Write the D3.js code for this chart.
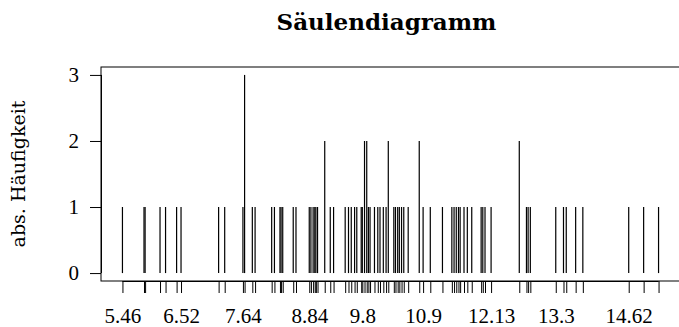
<!DOCTYPE html>
<html>
<head>
<meta charset="utf-8">
<script src="https://cdn.jsdelivr.net/npm/d3@7"></script>
<style>
  html, body { margin: 0; padding: 0; background: #fff; }
  svg { display: block; }
  text { font-family: "Liberation Serif", "DejaVu Serif", serif; fill: #000; }
</style>
</head>
<body>
<svg id="chart" width="679" height="327"></svg>
<script>
// Observed values (rounded to two decimals) and how often each occurs
const values = [
  5.46, 5.85, 5.87, 6.14, 6.24, 6.44, 6.52, 7.20, 7.31, 7.64, 7.67, 7.81, 7.86,
  8.16, 8.21, 8.31, 8.33, 8.36, 8.55, 8.60, 8.84, 8.87, 8.91, 8.94, 8.96, 8.99,
  9.12, 9.22, 9.28, 9.49, 9.55, 9.60, 9.66, 9.70, 9.78, 9.80, 9.84, 9.88, 9.91,
  9.94, 10.02, 10.08, 10.12, 10.18, 10.23, 10.27, 10.37, 10.40, 10.44, 10.47,
  10.51, 10.55, 10.63, 10.83, 10.90, 11.03, 11.25, 11.42, 11.46, 11.50, 11.54,
  11.57, 11.64, 11.70, 11.78, 11.95, 11.98, 12.02, 12.13, 12.64, 12.77, 12.80,
  12.84, 13.30, 13.44, 13.49, 13.66, 13.79, 14.62, 14.89, 15.16
];
const counts = [
  1, 1, 1, 1, 1, 1, 1, 1, 1, 1, 3, 1, 1,
  1, 1, 1, 1, 1, 1, 1, 1, 1, 1, 1, 1, 1,
  2, 1, 1, 1, 1, 1, 1, 1, 1, 1, 2, 2, 1,
  1, 1, 1, 1, 1, 1, 2, 1, 1, 1, 1,
  1, 1, 1, 2, 1, 1, 1, 1, 1, 1, 1,
  1, 1, 1, 1, 1, 1, 1, 1, 2, 1, 1,
  1, 1, 1, 1, 1, 1, 1, 1, 1
];
// Tick labels that are printed on the x axis (the rest stay unlabelled)
const xLabels = [5.46, 6.52, 7.64, 8.84, 9.8, 10.9, 12.13, 13.3, 14.62];
const yTicks = [0, 1, 2, 3];

const title = "Säulendiagramm";
const yTitle = "abs. Häufigkeit";

const svg = d3.select("#chart");
const box = { left: 101, top: 67, right: 680, bottom: 281 };

// R-style 4% padding around the data range
const xMin = d3.min(values), xMax = d3.max(values);
const xPad = 0.04 * (xMax - xMin);
const x = d3.scaleLinear()
  .domain([xMin - xPad, xMax + xPad])
  .range([box.left, box.right]);

const yPad = 0.04 * 3;
const y = d3.scaleLinear()
  .domain([0 - yPad, 3 + yPad])
  .range([box.bottom, box.top]);

const data = values.map((v, i) => ({ v, n: counts[i] }));

// Frame around the plotting region
svg.append("rect")
  .attr("x", box.left).attr("y", box.top)
  .attr("width", box.right - box.left).attr("height", box.bottom - box.top)
  .attr("fill", "none").attr("stroke", "#000").attr("stroke-width", 1);

// Frequency spikes
svg.append("g").selectAll("line")
  .data(data)
  .join("line")
  .attr("x1", d => x(d.v)).attr("x2", d => x(d.v))
  .attr("y1", y(0)).attr("y2", d => y(d.n))
  .attr("stroke", "#000").attr("stroke-width", 1.2);

// x axis: a tick at every observed value, labels only where listed
const xAxis = d3.axisBottom(x)
  .tickValues(values)
  .tickSize(12)
  .tickSizeOuter(0)
  .tickFormat(d => xLabels.includes(d) ? String(d) : "");
const gx = svg.append("g")
  .attr("transform", `translate(0,${box.bottom})`)
  .call(xAxis);
gx.select(".domain")
  .attr("d", `M${x(xMin)},0.5H${x(xMax)}`)
  .attr("stroke", "#000");
gx.selectAll(".tick line").attr("stroke", "#000").attr("stroke-width", 1);
gx.selectAll(".tick text")
  .attr("y", 42).attr("dy", null)
  .style("font-size", "21px")
  .style("font-family", "'Liberation Serif', serif")
  .attr("fill", "#000");

// y axis
const yAxis = d3.axisLeft(y)
  .tickValues(yTicks)
  .tickSize(11)
  .tickSizeOuter(0)
  .tickFormat(d3.format("d"));
const gy = svg.append("g")
  .attr("transform", `translate(${box.left},0)`)
  .call(yAxis);
gy.select(".domain")
  .attr("d", `M0.5,${y(0)}V${y(3)}`)
  .attr("stroke", "#000");
gy.selectAll(".tick line").attr("stroke", "#000");
gy.selectAll(".tick text")
  .attr("x", -22)
  .style("font-size", "21px")
  .style("font-family", "'Liberation Serif', serif")
  .attr("fill", "#000");

// Title
svg.append("text")
  .attr("x", (box.left + box.right) / 2 - 4)
  .attr("y", 30)
  .attr("text-anchor", "middle")
  .style("font-family", "'DejaVu Serif', serif")
  .style("font-size", "23px")
  .style("font-weight", "bold")
  .text(title);

// y-axis title
svg.append("text")
  .attr("transform", `translate(25,${(box.top + box.bottom) / 2}) rotate(-90)`)
  .attr("text-anchor", "middle")
  .style("font-family", "'DejaVu Serif', serif")
  .style("font-size", "19px")
  .text(yTitle);
</script>
</body>
</html>
